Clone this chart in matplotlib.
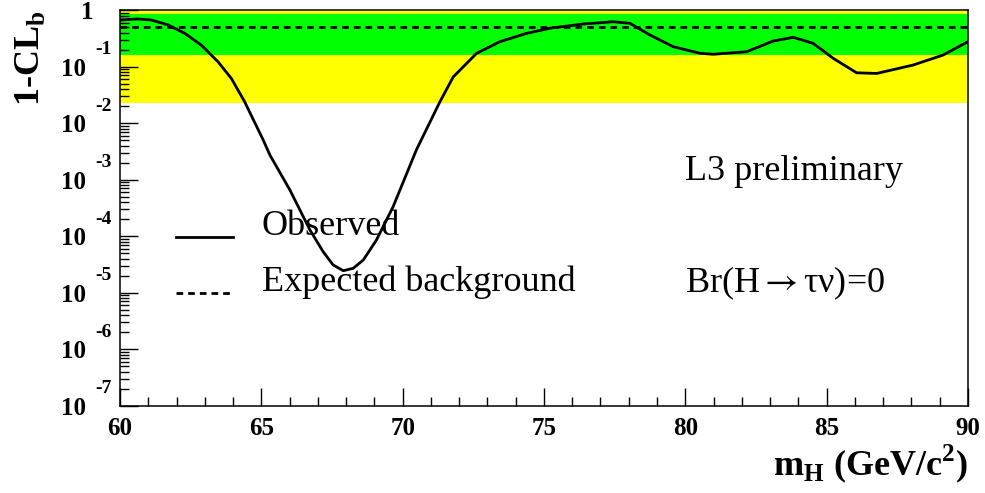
import numpy as np
import matplotlib
matplotlib.use('Agg')
from matplotlib import pyplot as plt
from matplotlib.ticker import FixedLocator, NullFormatter, MultipleLocator
from matplotlib.legend_handler import HandlerLine2D

plt.rcParams['font.family'] = 'Liberation Serif'
plt.rcParams['mathtext.fontset'] = 'custom'
plt.rcParams['mathtext.rm'] = 'Liberation Serif'
plt.rcParams['mathtext.bf'] = 'Liberation Serif:bold'

# observed 1-CL_b vs Higgs mass
mass = [60.0, 60.64, 61.11, 61.70, 62.29, 62.88, 63.47, 63.94, 64.41, 65.07,
        65.31, 66.01, 66.72, 67.19, 67.54, 67.90, 68.25, 68.61, 69.07, 69.66,
        70.49, 71.32, 71.79, 72.62, 73.44, 74.39, 75.21, 76.39, 77.45, 78.04,
        78.75, 79.57, 80.51, 80.99, 82.17, 83.11, 83.82, 84.52, 85.23, 86.06,
        86.77, 88.06, 89.12, 90.0]
observed = [0.67, 0.70, 0.67, 0.55, 0.39, 0.24, 0.122, 0.062, 0.024, 5.0e-3,
            2.7e-3, 6.6e-4, 1.29e-4, 5.3e-5, 3.1e-5, 2.45e-5, 2.7e-5, 3.8e-5, 8.5e-5, 3.3e-4,
            3.4e-3, 0.024, 0.066, 0.173, 0.277, 0.39, 0.48, 0.57, 0.625, 0.586,
            0.364, 0.226, 0.173, 0.166, 0.184, 0.285, 0.331, 0.259, 0.141, 0.078,
            0.076, 0.107, 0.161, 0.277]

# expected background
exp_mass = [60.0, 90.0]
expected = [0.5, 0.5]

# 1 and 2 sigma bands
band_1s = [0.159, 0.841]
band_2s = [0.0228, 0.977]

decades = [1, 2, 3, 4, 5, 6, 7]
xticks = [60, 65, 70, 75, 80, 85, 90]


class BaselineLine(HandlerLine2D):
    # legend key drawn at text baseline, like ROOT does
    def create_artists(self, legend, orig_handle, xdescent, ydescent,
                       width, height, fontsize, trans):
        arts = super().create_artists(legend, orig_handle, xdescent, ydescent,
                                      width, height, fontsize, trans)
        for a in arts:
            a.set_ydata(np.asarray(a.get_ydata()) - 0.4 * fontsize)
        return arts


fig = plt.figure(figsize=(9.85, 4.93), dpi=100)
ax = fig.add_axes([0.1218, 0.1771, 0.8609, 0.8022])

ax.axhspan(band_2s[0], band_2s[1], color='#ffff00', lw=0, zorder=0)
ax.axhspan(band_1s[0], band_1s[1], color='#00ff00', lw=0, zorder=0)

l_obs, = ax.plot(mass, observed, color='black', lw=2.0, label='Observed')
l_exp, = ax.plot(exp_mass, expected, color='black', lw=2.0, dashes=(2.4, 1.8),
                 label='Expected background')

ax.set_yscale('log')
ax.set_ylim(1e-7, 1)
ax.set_xlim(60, 90)

# ticks: inside, left/bottom only
ax.xaxis.set_major_locator(FixedLocator(xticks))
ax.xaxis.set_minor_locator(MultipleLocator(1))
ax.tick_params(which='both', direction='in', top=False, right=False, width=1.0)
ax.tick_params(which='major', length=13)
ax.tick_params(which='minor', length=6.5)
ax.tick_params(axis='x', which='major', pad=8.5)
ax.set_xticklabels([str(t) for t in xticks], fontweight='bold', fontsize=18)

ax.yaxis.set_major_formatter(NullFormatter())
ax.yaxis.set_minor_formatter(NullFormatter())

# ROOT-like y tick labels: "10" with exponent above
ax.annotate('1', xy=(0, 1.0), xycoords=('axes fraction', 'data'),
            xytext=(-19.4, -6.5), textcoords='offset points',
            ha='right', va='baseline', fontsize=18, fontweight='bold')
for k in decades:
    ax.annotate('10', xy=(0, 10.0 ** -k), xycoords=('axes fraction', 'data'),
                xytext=(-24.5, -6.4), textcoords='offset points',
                ha='right', va='baseline', fontsize=18, fontweight='bold')
    ax.annotate('-%d' % k, xy=(0, 10.0 ** -k), xycoords=('axes fraction', 'data'),
                xytext=(-5.8, 8.8), textcoords='offset points',
                ha='right', va='baseline', fontsize=14, fontweight='bold')

for sp in ax.spines.values():
    sp.set_linewidth(1.1)

ax.text(-0.106, 1.0, r'1-CL$_\mathbf{b}$', transform=ax.transAxes, rotation=90,
        ha='center', va='top', fontsize=26, fontweight='bold')
ax.text(1.0, -0.175, r'm$_\mathbf{H}$ (GeV/c$^\mathbf{2}$)', transform=ax.transAxes,
        ha='right', va='baseline', fontsize=26, fontweight='bold')

ax.legend(handles=[l_obs, l_exp], loc='upper left', bbox_to_anchor=(0.066, 0.495),
          frameon=False, fontsize=26, handlelength=1.58, handletextpad=0.8,
          labelspacing=0.62, borderpad=0, borderaxespad=0,
          handler_map={l_obs: BaselineLine(), l_exp: BaselineLine()})

ax.text(80, 1e-3, 'L3 preliminary', fontsize=26, va='baseline')
ax.text(80, 1e-5, 'Br(H$\\rightarrow$\u03c4\u03bd)=0', fontsize=26, va='baseline',
        math_fontfamily='stix')

fig.savefig('out.png', dpi=100)
